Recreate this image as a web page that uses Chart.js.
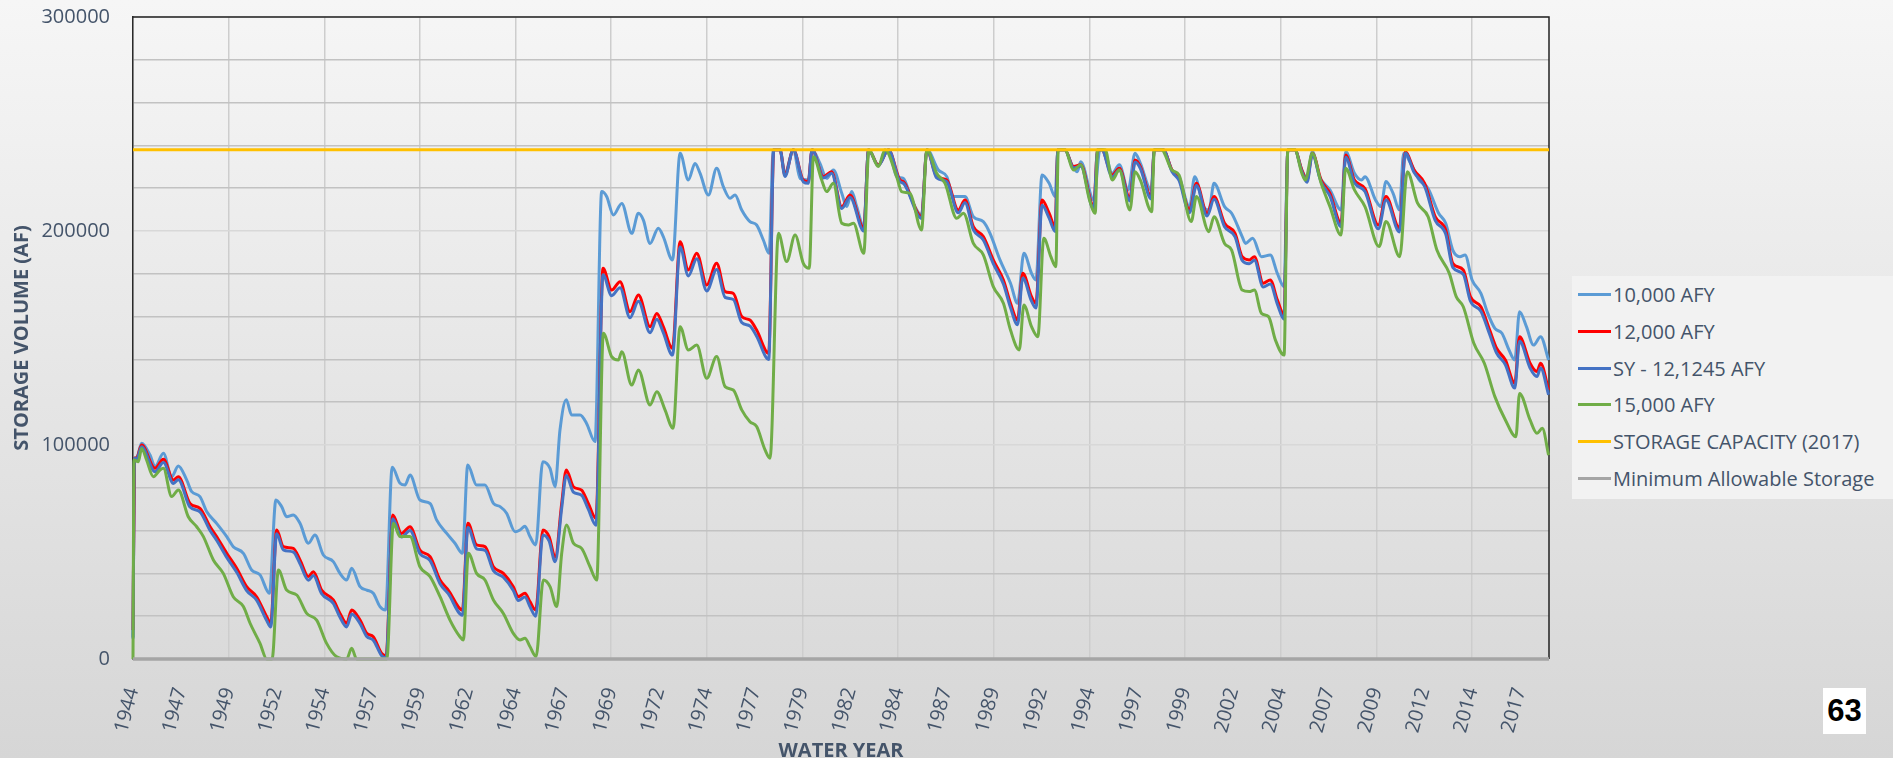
<!DOCTYPE html>
<html>
<head>
<meta charset="utf-8">
<title>Storage Volume by Water Year</title>
<script src="https://cdn.jsdelivr.net/npm/chart.js@4.4.1/dist/chart.umd.min.js"></script>
<style>
  html, body { margin: 0; padding: 0; }
  #wrap {
    position: relative; width: 1893px; height: 758px; overflow: hidden;
    background: linear-gradient(to bottom, #f6f6f6 0%, #d6d6d6 100%);
    font-family: 'Open Sans', sans-serif;
  }
  #chart { position: absolute; left: 0; top: 0; }
  #legend {
    position: absolute; left: 1572px; top: 276px; width: 321px; height: 223px;
    background: #f2f2f2;
  }
  .legend-item { position: absolute; left: 0; height: 28px; line-height: 28px; white-space: nowrap; }
  .legend-item .swatch { position: absolute; left: 6px; top: 12px; width: 33px; height: 3px; }
  .legend-item .text { position: absolute; left: 41px; top: 0; font-size: 20px; color: #44546A; }
  #page {
    position: absolute; left: 1823px; top: 688px; width: 43px; height: 46px;
    background: #ffffff; color: #000; text-align: center;
    font: bold 31px 'Liberation Sans', Arial, sans-serif; line-height: 46px;
  }
</style>
</head>
<body>
<div id="wrap">
  <canvas id="chart" width="1893" height="758"></canvas>
  <div id="legend"></div>
  <div id="page">63</div>
</div>
<script>
// X axis: water year labels, one every 30 months starting Oct 1944
const xTickValues = [1944.75, 1947.25, 1949.75, 1952.25, 1954.75, 1957.25, 1959.75, 1962.25, 1964.75, 1967.25,
    1969.75, 1972.25, 1974.75, 1977.25, 1979.75, 1982.25, 1984.75, 1987.25, 1989.75, 1992.25,
    1994.75, 1997.25, 1999.75, 2002.25, 2004.75, 2007.25, 2009.75, 2012.25, 2014.75, 2017.25];
const xTickLabels = ['1944', '1947', '1949', '1952', '1954', '1957', '1959', '1962', '1964', '1967',
    '1969', '1972', '1974', '1977', '1979', '1982', '1984', '1987', '1989', '1992',
    '1994', '1997', '1999', '2002', '2004', '2007', '2009', '2012', '2014', '2017'];
const yTickLabels = ['0', '50000', '100000', '150000', '200000', '250000', '300000'];

const seriesNames = ['10,000 AFY', '12,000 AFY', 'SY - 12,1245 AFY', '15,000 AFY', 'STORAGE CAPACITY (2017)', 'Minimum Allowable Storage'];
const seriesColors = ['#5B9BD5', '#FF0000', '#4472C4', '#70AD47', '#FFC000', '#A5A5A5'];

// 10,000 AFY
const afy10Years = [1944.75, 1944.83, 1944.94, 1945.20, 1945.64, 1945.90, 1946.34, 1946.77, 1947.12, 1947.56,
    1947.82, 1948.25, 1948.60, 1949.12, 1949.65, 1949.99, 1950.52, 1950.95, 1951.39, 1951.88,
    1952.22, 1952.52, 1952.78, 1953.13, 1953.48, 1953.92, 1954.26, 1954.70, 1955.22, 1955.57,
    1955.92, 1956.18, 1956.62, 1956.97, 1957.31, 1957.66, 1957.95, 1958.30, 1958.71, 1958.97,
    1959.23, 1959.75, 1960.28, 1960.62, 1961.15, 1961.58, 1961.97, 1962.25, 1962.71, 1963.15,
    1963.59, 1963.94, 1964.28, 1964.72, 1964.98, 1965.24, 1965.50, 1965.80, 1966.17, 1966.55,
    1966.81, 1967.07, 1967.40, 1967.68, 1968.12, 1968.46, 1968.90, 1969.25, 1969.51, 1969.86,
    1970.30, 1970.82, 1971.17, 1971.43, 1971.78, 1972.21, 1972.47, 1972.95, 1973.35, 1973.78,
    1974.13, 1974.39, 1974.83, 1975.26, 1975.61, 1975.96, 1976.22, 1976.57, 1977.00, 1977.35,
    1977.70, 1978.00, 1978.22, 1978.57, 1978.83, 1979.27, 1979.62, 1980.05, 1980.25, 1980.66,
    1981.01, 1981.36, 1981.80, 1982.06, 1982.32, 1982.58, 1982.95, 1983.20, 1983.71, 1984.24,
    1984.67, 1985.02, 1985.46, 1985.97, 1986.25, 1986.85, 1987.29, 1987.63, 1988.24, 1988.68,
    1989.20, 1989.55, 1990.07, 1990.62, 1990.99, 1991.32, 1991.72, 1991.95, 1992.27, 1992.64,
    1992.95, 1993.10, 1993.46, 1993.83, 1994.11, 1994.29, 1994.97, 1995.30, 1995.48, 1995.94,
    1996.31, 1996.77, 1997.13, 1997.41, 1997.97, 1998.14, 1998.60, 1999.06, 1999.43, 1999.98,
    2000.25, 2000.71, 2000.99, 2001.26, 2001.81, 2002.18, 2002.73, 2002.91, 2003.28, 2003.74,
    2004.20, 2004.57, 2004.92, 2005.12, 2005.48, 2005.85, 2006.12, 2006.40, 2006.77, 2007.32,
    2007.90, 2008.14, 2008.60, 2008.97, 2009.15, 2009.70, 2009.98, 2010.25, 2010.62, 2010.95,
    2011.17, 2011.54, 2011.99, 2012.45, 2013.00, 2013.37, 2013.74, 2014.11, 2014.38, 2014.75,
    2015.21, 2015.57, 2015.94, 2016.31, 2016.68, 2016.98, 2017.23, 2017.59, 2017.96, 2018.33,
    2018.75];
const afy10Values = [9500, 93800, 94000, 100800, 95300, 89900, 96100, 85200, 90200, 83600,
    78200, 75900, 68900, 63400, 57200, 52500, 49400, 41600, 39300, 30700,
    74300, 71200, 66500, 67300, 63400, 54100, 57900, 48600, 45500, 40000,
    36900, 42400, 33800, 32200, 30700, 24500, 22900, 89600, 82100, 81300,
    86000, 74300, 72700, 65000, 58700, 54100, 49400, 90700, 81300, 81300,
    72700, 71200, 68100, 59500, 60300, 62000, 57200, 53300, 92200, 89100,
    80500, 107000, 121200, 114000, 114000, 110100, 101600, 218400, 216100, 207500,
    212900, 198900, 208300, 205100, 194200, 201300, 197400, 186500, 236300, 223800,
    231600, 227000, 216800, 229300, 220700, 215300, 216800, 209800, 204400, 202800,
    195800, 189600, 238000, 238000, 227000, 238000, 224600, 223800, 238000, 231600,
    224600, 228500, 217600, 211400, 218400, 211400, 202000, 238000, 230900, 238000,
    225400, 224600, 214500, 207500, 238000, 228500, 225400, 216100, 216100, 206700,
    204400, 198900, 186500, 175600, 166200, 189600, 180200, 177100, 226200, 222300,
    216100, 238000, 238000, 230900, 227700, 232400, 214500, 238000, 238000, 227000,
    230900, 219200, 236300, 231600, 219200, 238000, 238000, 228500, 225400, 211400,
    225400, 211400, 209800, 222300, 211400, 208300, 197400, 194200, 196600, 188000,
    188800, 180200, 174000, 238000, 238000, 228500, 224600, 237100, 225400, 219200,
    209800, 237100, 227000, 223800, 225400, 214500, 211400, 223100, 217600, 209800,
    236300, 231600, 223800, 219900, 208300, 203600, 191100, 188000, 188800, 177100,
    170900, 161500, 154500, 152200, 144400, 139700, 162300, 155300, 146700, 150600,
    139700];

// 12,000 AFY and SY share the same sample years
const afy12Years = [1944.75, 1944.83, 1944.94, 1945.20, 1945.90, 1946.34, 1946.86, 1947.12, 1947.73, 1948.25,
    1948.78, 1949.12, 1949.65, 1950.17, 1950.69, 1951.21, 1951.74, 1951.95, 1952.26, 1952.61,
    1953.13, 1953.48, 1953.92, 1954.18, 1954.61, 1955.22, 1955.57, 1955.92, 1956.18, 1956.62,
    1956.97, 1957.31, 1957.75, 1957.98, 1958.33, 1958.79, 1959.23, 1959.75, 1960.28, 1960.80,
    1961.23, 1961.97, 1962.26, 1962.71, 1963.15, 1963.59, 1964.11, 1964.63, 1964.89, 1965.24,
    1965.50, 1965.80, 1966.18, 1966.50, 1966.82, 1967.16, 1967.40, 1967.77, 1968.20, 1968.55,
    1968.95, 1969.32, 1969.77, 1970.21, 1970.73, 1971.17, 1971.78, 1972.13, 1972.47, 1972.95,
    1973.35, 1973.78, 1974.22, 1974.74, 1975.26, 1975.70, 1976.13, 1976.57, 1977.00, 1977.35,
    1977.98, 1978.25, 1978.57, 1978.83, 1979.27, 1979.79, 1980.05, 1980.25, 1980.84, 1981.27,
    1981.80, 1982.23, 1982.95, 1983.20, 1983.71, 1984.24, 1984.85, 1985.02, 1985.97, 1986.25,
    1986.76, 1987.29, 1987.89, 1988.24, 1988.68, 1989.20, 1989.72, 1990.25, 1990.62, 1990.99,
    1991.26, 1991.72, 1991.95, 1992.27, 1992.64, 1992.95, 1993.10, 1993.46, 1993.92, 1994.29,
    1994.97, 1995.17, 1995.39, 1995.94, 1996.31, 1996.86, 1997.13, 1997.41, 1997.97, 1998.14,
    1998.60, 1999.06, 1999.43, 1999.98, 2000.34, 2000.90, 2001.26, 2001.81, 2002.36, 2002.73,
    2003.10, 2003.37, 2003.83, 2004.20, 2004.57, 2004.92, 2005.12, 2005.48, 2005.85, 2006.12,
    2006.40, 2006.86, 2007.32, 2007.90, 2008.14, 2008.60, 2009.15, 2009.85, 2010.25, 2010.95,
    2011.26, 2011.72, 2012.27, 2012.82, 2013.37, 2013.74, 2014.29, 2014.66, 2015.21, 2015.67,
    2016.03, 2016.49, 2016.98, 2017.23, 2017.78, 2018.14, 2018.33, 2018.75];
const afy12Values = [13600, 93800, 94000, 100000, 89100, 93300, 83600, 85200, 72700, 70400,
    61800, 57200, 49400, 42400, 33800, 29100, 19800, 16700, 60300, 52500,
    51700, 46300, 38500, 40800, 32200, 27600, 21300, 16700, 22900, 18200,
    12000, 10400, 2600, 1500, 67300, 58700, 61800, 50900, 47800, 36900,
    32200, 22900, 63400, 53300, 52500, 43100, 40000, 33800, 29100, 30700,
    26800, 22900, 60300, 57200, 47500, 72700, 88300, 80500, 78900, 72700,
    65700, 182600, 172400, 176300, 162300, 170100, 155300, 161500, 155300, 145200,
    195000, 181800, 189600, 174800, 184900, 171700, 170900, 160000, 158400, 153700,
    142800, 238000, 238000, 226200, 238000, 223800, 223100, 238000, 225400, 227700,
    211400, 216800, 201300, 238000, 230900, 238000, 223800, 223100, 206700, 238000,
    225400, 223800, 209800, 214500, 202000, 197400, 186500, 177100, 166200, 158400,
    180200, 169300, 166200, 214500, 208300, 202000, 238000, 238000, 230100, 230900,
    211400, 238000, 238000, 226200, 229300, 215300, 233200, 230100, 216100, 238000,
    238000, 228500, 224600, 209800, 222300, 208300, 216100, 203600, 198900, 188000,
    186500, 188000, 175600, 177100, 167800, 160800, 238000, 238000, 228500, 223800,
    236300, 223800, 217600, 203600, 235500, 223800, 219900, 202800, 216100, 201300,
    237100, 228500, 222300, 206700, 200500, 184900, 181800, 169300, 164600, 153700,
    145200, 139700, 128800, 150600, 138200, 134300, 138200, 125700];
const syValues = [10000, 93800, 93500, 99200, 87500, 91800, 82000, 83800, 71000, 68800,
    60000, 55500, 47500, 40500, 32000, 27500, 18000, 15000, 58500, 51000,
    50000, 44500, 36800, 39000, 30500, 26000, 19500, 15000, 21000, 16500,
    10500, 8800, 1500, 500, 65500, 57000, 60000, 49200, 46000, 35200,
    30500, 20500, 61500, 51500, 50800, 41300, 38200, 32000, 27300, 29000,
    24500, 20000, 58000, 55200, 45500, 70500, 85800, 78000, 76500, 70000,
    62500, 179500, 169800, 173500, 159500, 167200, 152500, 158800, 152500, 142000,
    192500, 179000, 187000, 172000, 182000, 169000, 168000, 157200, 155600, 150800,
    140000, 238000, 238000, 225500, 238000, 223000, 222300, 238000, 224800, 227000,
    210500, 215800, 200000, 238000, 230500, 238000, 223000, 222300, 205800, 238000,
    224800, 223000, 208500, 213200, 200500, 195800, 184800, 175200, 164200, 156200,
    178000, 167200, 164000, 212000, 206000, 199800, 238000, 238000, 229500, 230200,
    210200, 238000, 238000, 225300, 228500, 214000, 232200, 229200, 215000, 238000,
    238000, 227800, 223600, 208500, 221300, 207000, 214800, 202000, 197300, 186300,
    184700, 186300, 173800, 175200, 165800, 158800, 238000, 238000, 227800, 222800,
    235500, 222800, 216300, 202000, 234500, 222500, 218500, 201000, 214500, 199500,
    236500, 227300, 220800, 205000, 198600, 183000, 179800, 167300, 162500, 151600,
    143000, 137500, 126600, 148500, 136000, 132000, 136000, 123500];

// 15,000 AFY
const afy15Years = [1944.75, 1944.80, 1945.03, 1945.20, 1945.46, 1945.81, 1946.16, 1946.34, 1946.77, 1947.12,
    1947.64, 1948.08, 1948.43, 1948.95, 1949.47, 1949.99, 1950.52, 1950.87, 1951.39, 1951.74,
    1952.02, 1952.35, 1952.78, 1953.31, 1953.83, 1954.35, 1954.87, 1955.40, 1955.92, 1956.18,
    1956.44, 1958.02, 1958.36, 1958.71, 1959.23, 1959.75, 1960.28, 1960.80, 1961.32, 1961.84,
    1962.02, 1962.28, 1962.71, 1963.15, 1963.59, 1964.11, 1964.63, 1964.98, 1965.24, 1965.50,
    1965.82, 1966.20, 1966.55, 1966.90, 1967.16, 1967.42, 1967.77, 1968.20, 1968.64, 1968.99,
    1969.34, 1969.77, 1970.12, 1970.30, 1970.82, 1971.17, 1971.78, 1972.13, 1972.56, 1972.98,
    1973.35, 1973.78, 1974.22, 1974.74, 1975.26, 1975.70, 1976.13, 1976.57, 1977.00, 1977.35,
    1977.79, 1978.05, 1978.49, 1978.92, 1979.36, 1979.79, 1980.10, 1980.32, 1980.75, 1981.01,
    1981.36, 1981.80, 1982.15, 1982.41, 1982.95, 1983.22, 1983.71, 1984.06, 1984.67, 1984.93,
    1985.37, 1985.97, 1986.25, 1986.76, 1987.20, 1987.81, 1988.16, 1988.68, 1989.20, 1989.72,
    1990.25, 1990.62, 1991.08, 1991.32, 1991.72, 1992.05, 1992.36, 1992.73, 1992.99, 1993.12,
    1993.46, 1993.92, 1994.29, 1994.75, 1995.05, 1995.17, 1995.57, 1995.94, 1996.31, 1996.86,
    1997.13, 1997.41, 1998.00, 1998.14, 1998.51, 1999.06, 1999.43, 2000.07, 2000.34, 2000.99,
    2001.26, 2001.81, 2002.18, 2002.73, 2003.10, 2003.37, 2003.74, 2004.11, 2004.47, 2004.92,
    2005.12, 2005.48, 2005.85, 2006.03, 2006.40, 2006.86, 2007.32, 2007.90, 2008.14, 2008.60,
    2009.15, 2009.89, 2010.25, 2010.97, 2011.36, 2011.90, 2012.45, 2012.91, 2013.56, 2013.92,
    2014.29, 2014.84, 2015.39, 2015.94, 2016.49, 2017.04, 2017.23, 2017.78, 2018.14, 2018.42,
    2018.75];
const afy15Values = [0, 93000, 92200, 98400, 93000, 85200, 88300, 89100, 75900, 79000,
    66500, 61800, 57200, 46300, 40000, 29100, 24500, 16700, 7300, 0,
    0, 41600, 32200, 29900, 21300, 18200, 7300, 1000, 0, 5000,
    0, 0, 63400, 57200, 57200, 43100, 38500, 29100, 18200, 10400,
    8900, 49400, 40000, 36900, 27600, 21300, 12000, 8900, 9700, 5800,
    1100, 36900, 33800, 24500, 49400, 62600, 54100, 51700, 43100, 36900,
    152200, 141300, 139700, 143600, 128000, 135100, 118700, 124900, 116400, 107800,
    155300, 144400, 146700, 131200, 141300, 127300, 125700, 116400, 110900, 108600,
    97700, 93800, 198900, 185700, 198100, 184900, 182600, 234700, 223800, 218400,
    222300, 203600, 202800, 203600, 189600, 238000, 230100, 238000, 225400, 218400,
    217600, 200500, 238000, 227000, 222300, 205900, 208300, 194200, 188800, 174000,
    166200, 153700, 144400, 165400, 155300, 150600, 196600, 188000, 183300, 238000,
    238000, 228500, 230900, 214500, 208300, 238000, 238000, 223800, 228500, 209800,
    227700, 223800, 209000, 238000, 238000, 228500, 226200, 204400, 216100, 199700,
    206700, 194200, 191100, 172400, 171700, 172400, 161500, 160000, 149000, 142000,
    238000, 238000, 227000, 223800, 236300, 222300, 211400, 198100, 229300, 219200,
    211400, 192700, 204400, 188000, 227700, 213000, 206700, 191100, 180200, 169300,
    164600, 147500, 138200, 122600, 111700, 103900, 124100, 111700, 105500, 107800,
    95300];

// Reference lines
const refYears = [1944.75, 2018.77];
const capacityValues = [238000, 238000];
const minimumValues = [0, 0];

function toPoints(xs, ys) {
    return xs.map((x, i) => ({ x: x, y: ys[i] }));
}

const seriesData = [
    toPoints(afy10Years, afy10Values),
    toPoints(afy12Years, afy12Values),
    toPoints(afy12Years, syValues),
    toPoints(afy15Years, afy15Values),
    toPoints(refYears, capacityValues),
    toPoints(refYears, minimumValues)
];
const lineWidths = [3, 3, 3, 3, 3, 3.5];

// Frame: dark top and right edges of the plot area
const frameLines = {
    id: 'frameLines',
    beforeDatasetsDraw(chart) {
        const { ctx, chartArea: a } = chart;
        ctx.save();
        ctx.strokeStyle = '#222222';
        ctx.lineWidth = 1.5;
        ctx.beginPath();
        ctx.moveTo(a.left, a.top);
        ctx.lineTo(a.right, a.top);
        ctx.lineTo(a.right, a.bottom);
        ctx.stroke();
        ctx.restore();
    }
};

// keep the plot area exactly where the fixed sizes put it
function noEdgePadding(axis) {
    axis.paddingTop = 0;
    axis.paddingBottom = 0;
    axis.paddingLeft = 0;
    axis.paddingRight = 0;
}

const tickColor = '#44546A';

const chart = new Chart(document.getElementById('chart'), {
    type: 'line',
    data: {
        datasets: seriesData.map((pts, i) => ({
            label: seriesNames[i],
            data: pts,
            borderColor: seriesColors[i],
            backgroundColor: seriesColors[i],
            borderWidth: lineWidths[i],
            pointRadius: 0,
            fill: false,
            cubicInterpolationMode: 'monotone',
            clip: false,
            order: -i
        }))
    },
    options: {
        responsive: false,
        animation: false,
        layout: { padding: { left: 0, top: 17, right: 344, bottom: 0 } },
        plugins: {
            legend: { display: false },
            tooltip: { enabled: false }
        },
        scales: {
            x: {
                type: 'linear',
                min: 1944.75,
                max: 2018.77,
                afterBuildTicks: (axis) => {
                    axis.ticks = xTickValues.map(v => ({ value: v }));
                },
                afterFit: (axis) => { axis.height = 99; noEdgePadding(axis); },
                grid: {
                    drawTicks: false,
                    lineWidth: 1.5,
                    color: (ctx) => (ctx.index % 2 === 0 ? '#cdcdcd' : 'rgba(0,0,0,0)')
                },
                border: { display: false },
                ticks: {
                    autoSkip: false,
                    minRotation: 75,
                    maxRotation: 75,
                    padding: 26,
                    color: tickColor,
                    font: { family: 'Open Sans', size: 20 },
                    callback: (val, i) => xTickLabels[i]
                },
                title: {
                    display: true,
                    text: 'WATER YEAR',
                    color: tickColor,
                    font: { family: 'Open Sans', size: 20, weight: 'bold' },
                    padding: { top: 0, bottom: -5 }
                }
            },
            y: {
                type: 'linear',
                min: 0,
                max: 300000,
                afterFit: (axis) => { axis.width = 133; noEdgePadding(axis); },
                grid: {
                    drawTicks: false,
                    lineWidth: 1.5,
                    color: (ctx) => (ctx.tick && ctx.tick.value % 50000 === 0 ? '#d8d8d8' : '#c2c2c2')
                },
                border: { display: true, color: '#2a2a2a', width: 1.5 },
                ticks: {
                    stepSize: 10000,
                    padding: 23,
                    color: tickColor,
                    font: { family: 'Open Sans', size: 20 },
                    callback: (v) => (v % 50000 === 0 ? yTickLabels[v / 50000] : '')
                },
                title: {
                    display: true,
                    text: 'STORAGE VOLUME (AF)',
                    color: tickColor,
                    font: { family: 'Open Sans', size: 20, weight: 'bold' },
                    padding: { top: 10, bottom: 0 }
                }
            }
        }
    },
    plugins: [frameLines]
});

// Legend box built from the chart's own datasets
const legendBox = document.getElementById('legend');
chart.data.datasets.forEach((ds, i) => {
    const item = document.createElement('div');
    item.className = 'legend-item';
    item.style.top = (19 + i * 36.8 - 14) + 'px';
    const sw = document.createElement('span');
    sw.className = 'swatch';
    sw.style.background = ds.borderColor;
    const tx = document.createElement('span');
    tx.className = 'text';
    tx.textContent = ds.label;
    item.appendChild(sw);
    item.appendChild(tx);
    legendBox.appendChild(item);
});
</script>
</body>
</html>
